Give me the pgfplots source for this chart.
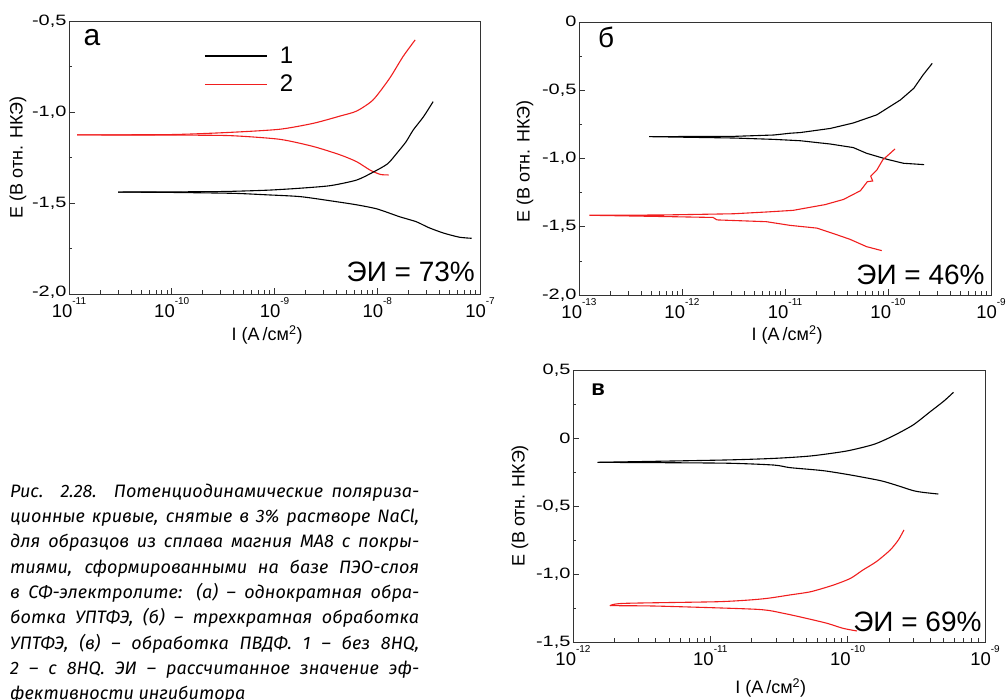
\documentclass[border=0pt]{standalone}
\usepackage{graphicx}
\usepackage{pgfplots}
\pgfplotsset{compat=1.18}
\usepackage{fontspec}
\setmainfont{Liberation Sans}
\newfontfamily\capfont{Fira Sans}
\definecolor{cred}{RGB}{240,30,30}
\newcommand{\xtsize}{\fontsize{18.5bp}{20bp}\selectfont}
\newcommand{\ytsize}{\fontsize{15bp}{17bp}\selectfont}
\newcommand{\labsize}{\fontsize{18bp}{20bp}\selectfont}
\newcommand{\eisize}{\fontsize{28bp}{30bp}\selectfont}
\newcommand{\xt}[1]{10\raisebox{13bp}{\fontsize{10bp}{10bp}\selectfont #1}}
\newcommand{\yt}[1]{\scalebox{1.33}[1]{#1}}
\newcommand{\capline}[1]{\makebox[409bp][s]{#1}\\}
\pgfplotsset{
  panel/.style={
    scale only axis,
    axis line style={black!80, line width=0.8bp},
    tick align=inside, tick pos=left,
    major tick length=6bp, minor tick length=3.5bp,
    every tick/.style={black!80, line width=0.6bp},
    xticklabel style={font=\xtsize},
    yticklabel style={font=\ytsize, xshift=1bp},
    label style={font=\labsize},
    xlabel={I (А\,/см\textsuperscript{2})},
    ylabel={E (В отн. НКЭ)},
    every axis plot/.append style={line width=1.1bp, no marks},
  }
}
\begin{document}
\begin{tikzpicture}[x=1bp,y=1bp]
\useasboundingbox (0,0) rectangle (1006,700);
% ---------- panel a ----------
\begin{semilogxaxis}[panel, at={(69bp,679bp)}, anchor=north west,
  width=411bp, height=273bp,
  xmin=1e-11, xmax=1e-7, ymin=-2, ymax=-0.5,
  xtick={1e-11,1e-10,1e-9,1e-8,1e-7},
  xticklabels={\xt{-11},\xt{-10},\xt{-9},\xt{-8},\xt{-7}},
  minor xtick={2e-11,3e-11,4e-11,5e-11,6e-11,7e-11,8e-11,9e-11,2e-10,3e-10,4e-10,5e-10,6e-10,7e-10,8e-10,9e-10,2e-9,3e-9,4e-9,5e-9,6e-9,7e-9,8e-9,9e-9,2e-8,3e-8,4e-8,5e-8,6e-8,7e-8,8e-8,9e-8},
  ytick={-2,-1.5,-1,-0.5},
  yticklabels={\raisebox{5bp}{\yt{-2,0}},\yt{-1,5},\yt{-1,0},\raisebox{-4bp}{\yt{-0,5}}},
  minor ytick={-1.75,-1.25,-0.75},
  x label style={at={(axis description cs:0.482,-0.150)}, anchor=center},
  y label style={at={(axis description cs:-0.124,0.5)}, anchor=center},
  legend style={at={(axis description cs:0.328,0.912)}, anchor=north west, draw=none, fill=none,
    font=\fontsize{24bp}{26bp}\selectfont, inner sep=0pt, row sep=6bp},
  legend cell align=left,
  legend image code/.code={\draw[#1, line width=1.6bp] (0bp,0bp) -- (62bp,0bp); \path[draw=none, fill=none] (0bp,0bp) rectangle (73bp,0bp);},
]
\addplot[black, smooth, tension=0.4] coordinates {
(8.3e-8,-1.694) (6.3e-8,-1.688) (4.4e-8,-1.665) (3.16e-8,-1.635) (2.4e-8,-1.603)
(1.66e-8,-1.576) (1e-8,-1.533) (6.3e-9,-1.510) (3.7e-9,-1.490) (1.78e-9,-1.465)
(8.3e-10,-1.455) (4.0e-10,-1.447) (1e-10,-1.442) (3.0e-11,-1.440)
};
\addlegendentry{1}
\addplot[cred, smooth, tension=0.4] coordinates {
(1.29e-8,-1.346) (1.07e-8,-1.343) (8.5e-9,-1.319) (6.3e-9,-1.273) (4.37e-9,-1.236)
(2.4e-9,-1.190) (1.12e-9,-1.150) (3.7e-10,-1.130) (1e-10,-1.127) (1.2e-11,-1.126)
};
\addlegendentry{2}
\addplot[black, smooth, tension=0.4, forget plot] coordinates {
(3.0e-11,-1.440)
(1e-10,-1.439) (3.16e-10,-1.437) (8.3e-10,-1.430) (1.66e-9,-1.420) (3.47e-9,-1.405)
(6.3e-9,-1.374) (9.1e-9,-1.331) (1.26e-8,-1.285) (1.55e-8,-1.227) (1.9e-8,-1.165)
(2.24e-8,-1.099) (2.82e-8,-1.026) (3.5e-8,-0.943)
};
\addplot[cred, smooth, tension=0.4, forget plot] coordinates {
(1.2e-11,-1.126)
(1e-10,-1.124) (3.7e-10,-1.112) (1.12e-9,-1.095) (2.4e-9,-1.062) (4.37e-9,-1.022)
(6.3e-9,-0.995) (9.1e-9,-0.934) (1.32e-8,-0.815) (1.78e-8,-0.696) (2.34e-8,-0.604)
};
\node[font=\fontsize{30bp}{32bp}\selectfont] at (axis description cs:0.056,0.938) {а};
\node[font=\eisize, anchor=east, inner sep=0pt] at (axis description cs:0.988,0.081) {ЭИ = 73\%};
\end{semilogxaxis}
% ---------- panel b ----------
\begin{semilogxaxis}[panel, at={(579bp,678bp)}, anchor=north west,
  width=412bp, height=273bp,
  xmin=1e-13, xmax=1e-9, ymin=-2, ymax=0,
  xtick={1e-13,1e-12,1e-11,1e-10,1e-9},
  xticklabels={\xt{-13},\xt{-12},\xt{-11},\xt{-10},\xt{-9}},
  minor xtick={2e-13,3e-13,4e-13,5e-13,6e-13,7e-13,8e-13,9e-13,2e-12,3e-12,4e-12,5e-12,6e-12,7e-12,8e-12,9e-12,2e-11,3e-11,4e-11,5e-11,6e-11,7e-11,8e-11,9e-11,2e-10,3e-10,4e-10,5e-10,6e-10,7e-10,8e-10,9e-10},
  ytick={-2,-1.5,-1,-0.5,0},
  yticklabels={\yt{-2,0},\yt{-1,5},\yt{-1,0},\yt{-0,5},\raisebox{2bp}{\yt{0}}},
  minor ytick={-1.75,-1.25,-0.75,-0.25},
  x label style={at={(axis description cs:0.505,-0.147)}, anchor=center},
  y label style={at={(axis description cs:-0.131,0.49)}, anchor=center},
]
\addplot[black] coordinates {
(2.24e-10,-1.045) (1.41e-10,-1.035) (9.8e-11,-1.006) (6.2e-11,-0.962) (4.6e-11,-0.920)
(2.75e-11,-0.894) (1.41e-11,-0.870) (7.8e-12,-0.860) (3.16e-12,-0.850) (4.8e-13,-0.840)
(3.16e-12,-0.838) (7.8e-12,-0.828) (1.12e-11,-0.815) (1.41e-11,-0.810) (2.75e-11,-0.780)
(4.6e-11,-0.740) (7.8e-11,-0.680) (1.32e-10,-0.571) (1.78e-10,-0.486) (2.19e-10,-0.388)
(2.69e-10,-0.303)
};
\addplot[cred] coordinates {
(8.7e-11,-1.675) (6.2e-11,-1.646) (4.27e-11,-1.592) (2.95e-11,-1.550) (2.04e-11,-1.510)
(1.12e-11,-1.490) (6.6e-12,-1.463) (2.19e-12,-1.450) (2.0e-12,-1.432) (6.3e-13,-1.425)
(1.26e-13,-1.416)
(6.3e-13,-1.414) (3.16e-12,-1.405) (6.6e-12,-1.392) (1.2e-11,-1.380) (1.74e-11,-1.358)
(2.45e-11,-1.338) (3.7e-11,-1.300) (5.4e-11,-1.236) (6.3e-11,-1.170) (7.1e-11,-1.165)
(6.8e-11,-1.130) (7.8e-11,-1.084) (8.9e-11,-1.010) (1.05e-10,-0.962) (1.17e-10,-0.930)
};
\node[font=\fontsize{28bp}{30bp}\selectfont] at (axis description cs:0.066,0.944) {б};
\node[font=\eisize, anchor=east, inner sep=0pt] at (axis description cs:0.985,0.073) {ЭИ = 46\%};
\end{semilogxaxis}
% ---------- panel v ----------
\begin{semilogxaxis}[panel, at={(573bp,330bp)}, anchor=north west,
  width=412bp, height=272bp,
  xmin=1e-12, xmax=1e-9, ymin=-1.5, ymax=0.5,
  xtick={1e-12,1e-11,1e-10,1e-9},
  xticklabels={\xt{-12},\xt{-11},\xt{-10},\xt{-9}},
  minor xtick={2e-12,3e-12,4e-12,5e-12,6e-12,7e-12,8e-12,9e-12,2e-11,3e-11,4e-11,5e-11,6e-11,7e-11,8e-11,9e-11,2e-10,3e-10,4e-10,5e-10,6e-10,7e-10,8e-10,9e-10},
  ytick={-1.5,-1,-0.5,0,0.5},
  yticklabels={\yt{-1,5},\yt{-1,0},\yt{-0,5},\yt{0},\yt{0,5}},
  minor ytick={-1.25,-0.75,-0.25,0.25},
  x label style={at={(axis description cs:0.48,-0.169)}, anchor=center},
  y label style={at={(axis description cs:-0.129,0.5)}, anchor=center},
]
\addplot[black, smooth, tension=0.4] coordinates {
(4.57e-10,-0.412) (3.55e-10,-0.400) (3.0e-10,-0.387) (2.24e-10,-0.346) (1.74e-10,-0.314)
(1.05e-10,-0.272) (6.6e-11,-0.240) (3.8e-11,-0.218) (2.9e-11,-0.199) (1.25e-11,-0.185)
(1.51e-12,-0.179)
};
\addplot[black, smooth, tension=0.4] coordinates {
(1.51e-12,-0.179)
(1.25e-11,-0.162) (2.9e-11,-0.150) (5.4e-11,-0.132) (9.8e-11,-0.096) (1.55e-10,-0.047)
(2.14e-10,0.015) (3.0e-10,0.096) (4.0e-10,0.194) (5.0e-10,0.270) (5.9e-10,0.336)
};
\addplot[cred, smooth, tension=0.4] coordinates {
(1.17e-10,-1.419) (9.3e-11,-1.400) (7.1e-11,-1.363) (5.0e-11,-1.326) (3.4e-11,-1.289)
(2.2e-11,-1.260) (4.1e-12,-1.236) (1.86e-12,-1.233)
};
\addplot[cred, smooth, tension=0.4] coordinates {
(1.86e-12,-1.233)
(2.34e-12,-1.216) (1.12e-11,-1.204) (2.0e-11,-1.190) (2.7e-11,-1.177) (3.8e-11,-1.154)
(5.4e-11,-1.130) (7.9e-11,-1.081) (1.05e-10,-1.032) (1.29e-10,-0.971) (1.62e-10,-0.909)
(2.04e-10,-0.824) (2.34e-10,-0.750) (2.57e-10,-0.676)
};
\node[font=\fontsize{22bp}{24bp}\selectfont\bfseries] at (axis description cs:0.061,0.929) {в};
\node[font=\eisize, anchor=east, inner sep=0pt] at (axis description cs:0.992,0.075) {ЭИ = 69\%};
\end{semilogxaxis}
% ---------- caption ----------
\node[anchor=base west, inner sep=0pt] at (10bp,202.7bp) {\parbox[t]{409bp}{%
\capfont\itshape\fontsize{18bp}{25.3bp}\selectfont
\capline{Рис. 2.28. Потенциодинамические поляриза-}
\capline{ционные кривые, снятые в 3\% растворе NaCl,}
\capline{для образцов из сплава магния МА8 с покры-}
\capline{тиями, сформированными на базе ПЭО-слоя}
\capline{в СФ-электролите: (а) – однократная обра-}
\capline{ботка УПТФЭ, (б) – трехкратная обработка}
\capline{УПТФЭ, (в) – обработка ПВДФ. 1 – без 8HQ,}
\capline{2 – с 8HQ. ЭИ – рассчитанное значение эф-}
фективности ингибитора}};
\end{tikzpicture}
\end{document}
